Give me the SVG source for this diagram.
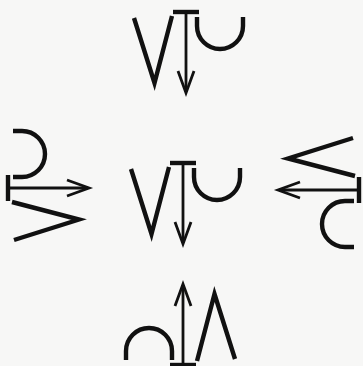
<svg xmlns="http://www.w3.org/2000/svg" xmlns:xlink="http://www.w3.org/1999/xlink" width="363" height="366" viewBox="0 0 363 366">
  <style>
    .thick { fill: none; stroke: #111; stroke-width: 4.4; stroke-linejoin: miter; stroke-miterlimit: 10; }
    .thin { fill: none; stroke: #111; stroke-width: 2.8; stroke-linejoin: miter; }
  </style>
  <defs>
    <g id="glyph">
      <polyline class="thick" points="-52,6 -31.5,71 -14,4"/>
      <line class="thick" x1="-13" y1="0" x2="13" y2="0"/>
      <line class="thin" x1="0" y1="0" x2="0" y2="80"/>
      <polyline class="thin" points="-8,59 0,81 8,59"/>
      <path class="thick" d="M11,5 V14 A23,23 0 0 0 57,14 V5"/>
    </g>
  </defs>
  <rect x="0" y="0" width="363" height="366" fill="#f7f7f6"/>
  <g id="top"><use xlink:href="#glyph" transform="translate(186,12)"/></g>
  <g id="center"><use xlink:href="#glyph" transform="translate(183,163)"/></g>
  <g id="left"><use xlink:href="#glyph" transform="translate(8,188) rotate(-90)"/></g>
  <g id="right"><use xlink:href="#glyph" transform="translate(359,190) rotate(90)"/></g>
  <g id="bottom"><use xlink:href="#glyph" transform="translate(183,365) rotate(180)"/></g>
</svg>
